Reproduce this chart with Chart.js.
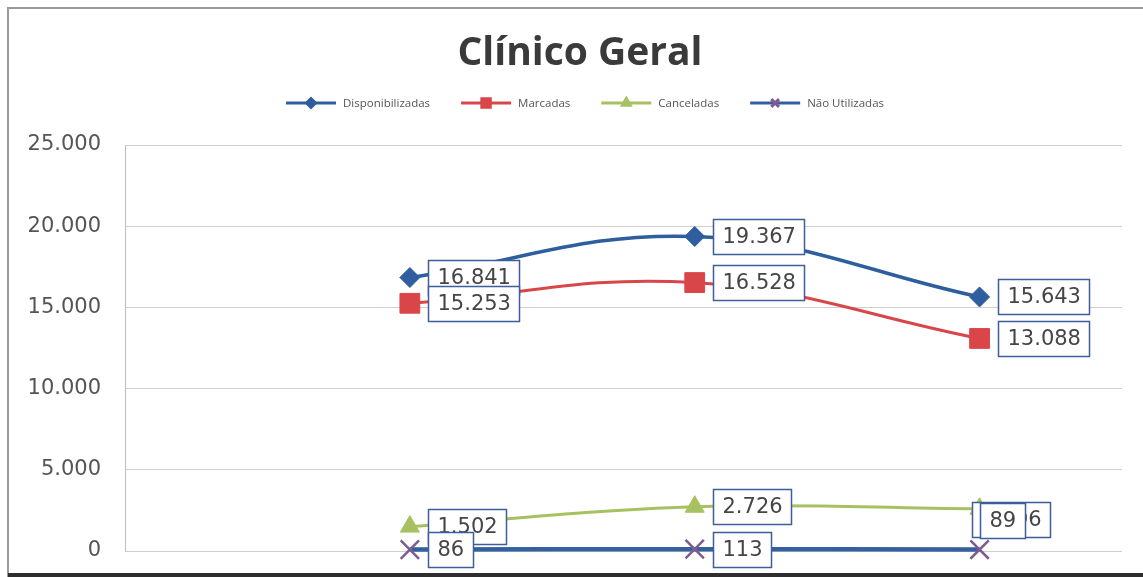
<!DOCTYPE html>
<html lang="pt-BR">
<head>
<meta charset="utf-8">
<title>Clínico Geral</title>
<script src="https://cdn.jsdelivr.net/npm/chart.js@4.4.1/dist/chart.umd.min.js"></script>
<style>
  html, body { margin: 0; padding: 0; background: #ffffff; }
  #wrap { position: relative; width: 1143px; height: 577px; }
  canvas { display: block; }
</style>
</head>
<body>
<div id="wrap"><canvas id="chart" width="1143" height="577"></canvas></div>
<script>
// Períodos (posições no eixo horizontal)
const periods = [1, 2, 3];

// Séries
const seriesNames = ['Disponibilizadas', 'Marcadas', 'Canceladas', 'Não Utilizadas'];
const disponibilizadas = [16841, 19367, 15643];
const marcadas = [15253, 16528, 13088];
const canceladas = [1502, 2726, 2596];
const naoUtilizadas = [86, 113, 89];

// Marcas do eixo vertical
const yTicks = [0, 5000, 10000, 15000, 20000, 25000];

const chartTitle = 'Clínico Geral';

// Formato brasileiro: ponto como separador de milhar
function fmt(v) {
  return String(Math.round(v)).replace(/\B(?=(\d{3})+(?!\d))/g, '.');
}

const styles = [
  { color: '#2F5E9E', marker: '#2F5E9E', point: 'rectRot', radius: 10, width: 3.5, markerBorder: 1 },
  { color: '#D9464A', marker: '#D9464A', point: 'rect', radius: 14, width: 3, markerBorder: 1 },
  { color: '#A7C160', marker: '#A7C160', point: 'triangle', radius: 11, width: 3, markerBorder: 1 },
  { color: '#35609F', marker: '#7C5C91', point: 'crossRot', radius: 13, width: 4.5, markerBorder: 2.5 }
];

// Deslocamento das caixas de rótulo (borda esquerda e centro vertical em relação ao ponto)
const labelShift = {
  default: { dx: 18, dy: 0 },
  2: { 2: { dx: -8, dy: 11 } },
  3: { 2: { dx: 0, dy: -29.5 } }
};

const values = [disponibilizadas, marcadas, canceladas, naoUtilizadas];

const datasets = values.map((arr, i) => ({
  label: seriesNames[i],
  data: arr.map((v, j) => ({ x: periods[j], y: v })),
  borderColor: styles[i].color,
  backgroundColor: styles[i].marker,
  pointBackgroundColor: styles[i].marker,
  pointBorderColor: styles[i].marker,
  pointBorderWidth: styles[i].markerBorder,
  pointStyle: styles[i].point,
  pointRadius: styles[i].radius,
  pointHoverRadius: styles[i].radius,
  borderWidth: styles[i].width,
  tension: 0.4,
  clip: false,
  fill: false
}));

// Moldura, título e legenda
const framePlugin = {
  id: 'frame',
  beforeDraw(chart) {
    const ctx = chart.ctx;
    ctx.save();
    ctx.fillStyle = '#ffffff';
    ctx.fillRect(0, 0, chart.width, chart.height);
    ctx.strokeStyle = '#9a9a9a';
    ctx.lineWidth = 2;
    ctx.strokeRect(8, 8, 1140, 568);
    ctx.fillStyle = '#2e2e2e';
    ctx.fillRect(8, 573, 1135, 4);
    ctx.restore();
  },
  afterDraw(chart) {
    const ctx = chart.ctx;
    ctx.save();
    // Título
    ctx.fillStyle = '#3a3a3a';
    ctx.font = 'bold 39px "Open Sans", sans-serif';
    ctx.textAlign = 'center';
    ctx.textBaseline = 'alphabetic';
    ctx.fillText(chartTitle, 580, 65);

    // Legenda
    ctx.font = '11.5px "Open Sans", sans-serif';
    const lineW = 50, gapText = 7, gapItem = 31;
    const widths = seriesNames.map(n => ctx.measureText(n).width);
    let total = 0;
    widths.forEach((w, i) => { total += lineW + gapText + w + (i < widths.length - 1 ? gapItem : 0); });
    let x = 585 - total / 2;
    const y = 103;
    chart.data.datasets.forEach((ds, i) => {
      ctx.strokeStyle = ds.borderColor;
      ctx.lineWidth = 3;
      ctx.beginPath();
      ctx.moveTo(x, y);
      ctx.lineTo(x + lineW, y);
      ctx.stroke();
      ctx.fillStyle = ds.pointBackgroundColor;
      ctx.strokeStyle = ds.pointBorderColor;
      Chart.helpers.drawPoint(ctx, {
        pointStyle: ds.pointStyle,
        radius: ds.pointStyle === 'rect' ? 6 : (ds.pointStyle === 'crossRot' ? 5.5 : 4.5),
        borderWidth: ds.pointStyle === 'crossRot' ? 1.5 : 1
      }, x + lineW / 2, y);
      ctx.fillStyle = '#555555';
      ctx.textAlign = 'left';
      ctx.textBaseline = 'middle';
      ctx.fillText(ds.label, x + lineW + gapText, y + 0.5);
      x += lineW + gapText + widths[i] + gapItem;
    });
    ctx.restore();
  }
};

// Caixas com os valores dos pontos
const valueBoxes = {
  id: 'valueBoxes',
  afterDatasetsDraw(chart) {
    const ctx = chart.ctx;
    ctx.save();
    ctx.font = '21px "DejaVu Sans", sans-serif';
    ctx.textBaseline = 'middle';
    ctx.textAlign = 'left';
    chart.data.datasets.forEach((ds, i) => {
      const meta = chart.getDatasetMeta(i);
      meta.data.forEach((pt, j) => {
        const text = fmt(ds.data[j].y);
        const shift = (labelShift[i] && labelShift[i][j]) || labelShift.default;
        const tw = ctx.measureText(text).width;
        const padX = 9, h = 35;
        const bx = Math.round(pt.x + shift.dx) + 0.5;
        const by = Math.round(pt.y + shift.dy - h / 2) + 0.5;
        const bw = Math.round(tw + padX * 2);
        ctx.fillStyle = '#ffffff';
        ctx.fillRect(bx, by, bw, h);
        ctx.strokeStyle = '#3E5E9B';
        ctx.lineWidth = 1.5;
        ctx.strokeRect(bx, by, bw, h);
        ctx.fillStyle = '#454545';
        ctx.fillText(text, bx + padX, by + h / 2 + 1);
      });
    });
    ctx.restore();
  }
};

new Chart(document.getElementById('chart'), {
  type: 'line',
  data: { datasets },
  options: {
    responsive: false,
    animation: false,
    events: [],
    layout: { autoPadding: false, padding: { top: 145, right: 21, bottom: 26, left: 0 } },
    plugins: {
      legend: { display: false },
      title: { display: false },
      tooltip: { enabled: false }
    },
    scales: {
      x: {
        type: 'linear',
        min: 0,
        max: 3.5,
        display: false
      },
      y: {
        min: yTicks[0],
        max: yTicks[yTicks.length - 1],
        afterBuildTicks(scale) { scale.ticks = yTicks.map(v => ({ value: v })); },
        afterFit(scale) {
          scale.width = 125;
          scale.paddingTop = 0;
          scale.paddingBottom = 0;
        },
        border: { display: true, color: '#bdbdbd', width: 1 },
        grid: { color: '#cfcfcf', lineWidth: 1, drawTicks: false },
        ticks: {
          padding: 24,
          color: '#555555',
          font: { family: '"DejaVu Sans", sans-serif', size: 21 },
          callback: v => fmt(v)
        }
      }
    }
  },
  plugins: [framePlugin, valueBoxes]
});
</script>
</body>
</html>
